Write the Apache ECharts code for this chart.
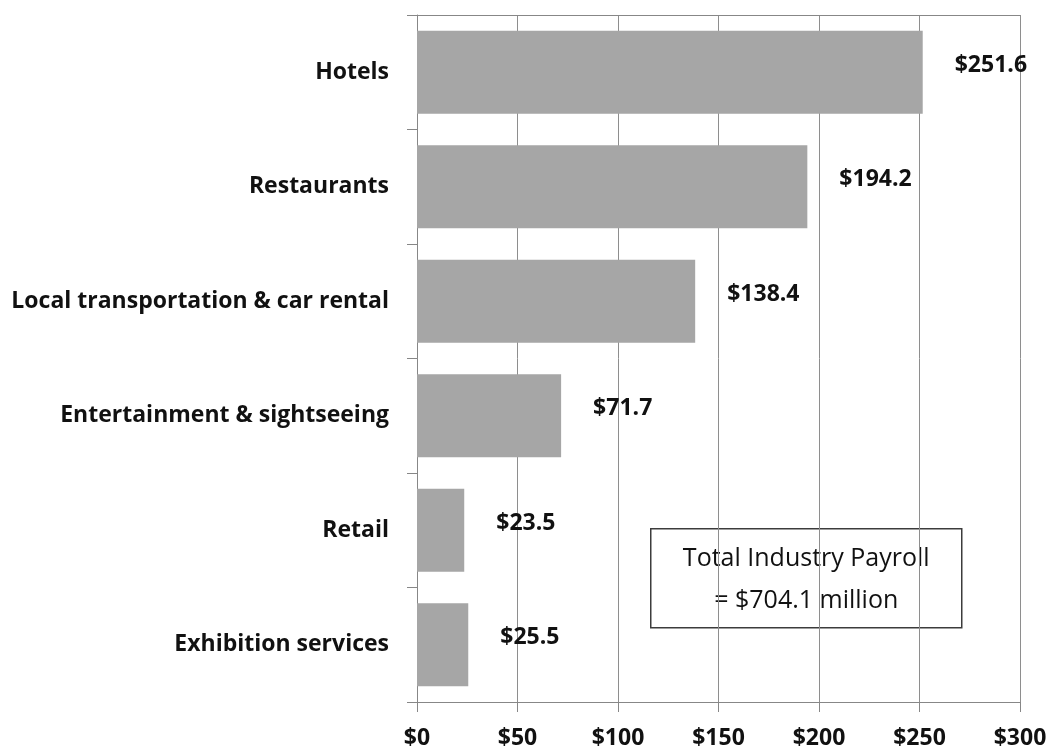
<!DOCTYPE html>
<html>
<head>
<meta charset="utf-8">
<title>Industry payroll by sector</title>
<script src="https://cdn.jsdelivr.net/npm/echarts@6/dist/echarts.min.js"></script>
<style>
  html, body { margin: 0; padding: 0; background: #ffffff; }
  #chart { width: 1052px; height: 751px; }
</style>
</head>
<body>
<div id="chart"></div>
<script>
// Payroll by sector, millions of dollars
const categories = [
  'Hotels',
  'Restaurants',
  'Local transportation & car rental',
  'Entertainment & sightseeing',
  'Retail',
  'Exhibition services'
];
const payroll = [251.6, 194.2, 138.4, 71.7, 23.5, 25.5];
const xTicks = [0, 50, 100, 150, 200, 250, 300];
const totalLines = ['Total Industry Payroll', '= $704.1 million'];

const FONT = '"Open Sans"';
const AXIS_GREY = '#878787';

const chart = echarts.init(document.getElementById('chart'), null, { renderer: 'canvas' });

chart.setOption({
  animation: false,
  backgroundColor: '#ffffff',
  grid: { left: 417, right: 32, top: 15, bottom: 49, containLabel: false },
  xAxis: [
    {
      type: 'value',
      min: xTicks[0],
      max: xTicks[xTicks.length - 1],
      interval: xTicks[1] - xTicks[0],
      position: 'bottom',
      axisLine: { show: true, lineStyle: { color: AXIS_GREY, width: 1 } },
      axisTick: { show: true, length: 10, lineStyle: { color: AXIS_GREY } },
      splitLine: { show: true, lineStyle: { color: '#8e8e8e', width: 1 } },
      axisLabel: {
        margin: 25,
        color: '#111111',
        fontFamily: FONT,
        fontWeight: 'bold',
        fontSize: 23,
        formatter: v => '$' + v
      }
    },
    {
      // top border of the plot area
      type: 'value',
      min: xTicks[0],
      max: xTicks[xTicks.length - 1],
      interval: xTicks[1] - xTicks[0],
      position: 'top',
      axisLine: { show: true, lineStyle: { color: AXIS_GREY, width: 1 } },
      axisTick: { show: false },
      splitLine: { show: false },
      axisLabel: { show: false }
    }
  ],
  yAxis: {
    type: 'category',
    data: categories,
    inverse: true,
    axisLine: { show: true, lineStyle: { color: AXIS_GREY, width: 1 } },
    axisTick: { show: true, length: 10, alignWithLabel: false, lineStyle: { color: AXIS_GREY } },
    splitLine: { show: false },
    axisLabel: {
      margin: 28,
      color: '#111111',
      fontFamily: FONT,
      fontWeight: 'bold',
      fontSize: 23
    }
  },
  series: [
    {
      type: 'bar',
      data: payroll,
      xAxisIndex: 0,
      barCategoryGap: '27.5%',
      itemStyle: { color: '#a6a6a6' },
      label: {
        show: true,
        position: 'right',
        distance: 32,
        offset: [0, -7],
        color: '#111111',
        fontFamily: FONT,
        fontWeight: 'bold',
        fontSize: 23,
        formatter: p => '$' + p.value.toFixed(1)
      }
    }
  ],
  graphic: [
    {
      type: 'group',
      left: 650,
      top: 528,
      children: [
        {
          type: 'rect',
          shape: { x: 0, y: 0, width: 311, height: 99 },
          style: { fill: '#ffffff', stroke: '#3c3c3c', lineWidth: 1.5 }
        },
        {
          type: 'text',
          x: 155.5,
          y: 30,
          style: {
            text: totalLines[0],
            fill: '#111111',
            font: '25px ' + FONT,
            textAlign: 'center',
            textVerticalAlign: 'middle'
          }
        },
        {
          type: 'text',
          x: 155.5,
          y: 72,
          style: {
            text: totalLines[1],
            fill: '#111111',
            font: '25px ' + FONT,
            textAlign: 'center',
            textVerticalAlign: 'middle'
          }
        }
      ]
    }
  ]
});
</script>
</body>
</html>
